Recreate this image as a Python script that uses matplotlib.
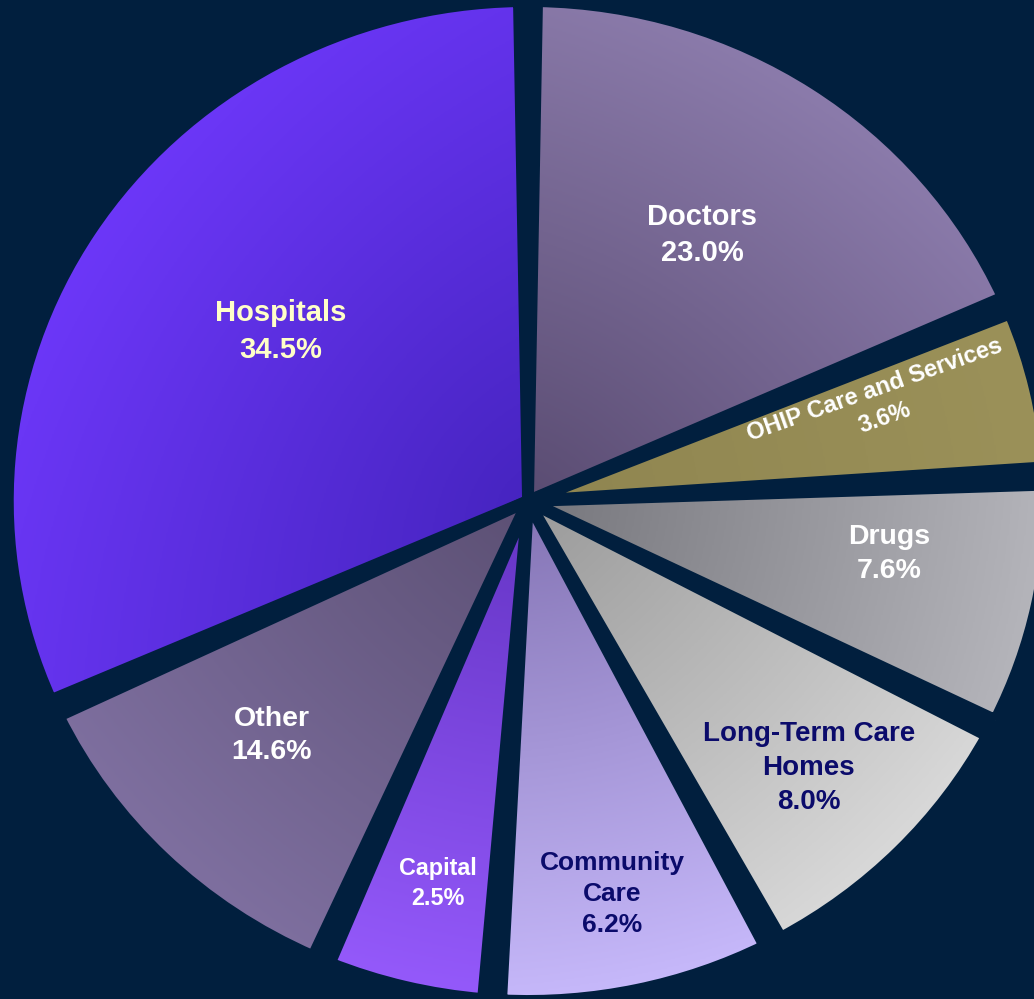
import numpy as np
import matplotlib.pyplot as plt
from matplotlib.colors import LinearSegmentedColormap
from matplotlib.patches import Wedge

# slices clockwise from 12 o'clock
categories = ["Doctors", "OHIP Care and Services", "Drugs", "Long-Term Care\nHomes",
              "Community\nCare", "Capital", "Other", "Hospitals"]
pct_labels = ["23.0%", "3.6%", "7.6%", "8.0%", "6.2%", "2.5%", "14.6%", "34.5%"]
# slice sizes as they are drawn in the picture (% of the circle)
slice_share = [18.6, 5.6, 8.3, 9.7, 8.9, 5.4, 11.7, 31.8]

inner_colors = ["#5a4c72", "#8f8550", "#76767c", "#9a9a9a", "#8474b4", "#6434c4", "#5c5074", "#4624c0"]
outer_colors = ["#8b7bab", "#9b9159", "#b4b4ba", "#d8d8d8", "#c6b8fa", "#9459fa", "#7e6f9f", "#6c37f8"]
text_colors = ["white", "white", "white", "#0b0b6b", "#0b0b6b", "white", "white", "#ffffc8"]
font_sizes = [21, 17, 20.5, 20, 19, 16.8, 20.5, 21]
label_r = [0.632, 0.711, 0.712, 0.772, 0.817, 0.798, 0.692, 0.588]
label_shift = [-1, -2.7, -3, 0.5, 0.5, -1, 1.7, 2.3]   # degrees, clockwise
label_rot = [0, 19.5, 0, 0, 0, 0, 0, 0]

bg = "#011f3e"
W, H = 1034, 999
cx, cy = 528, 501          # pie centre, pixels from top-left
rx, ry = 514, 494          # horizontal / vertical radius in pixels
gap_deg = 1.0              # angular trim on each side of a slice

fig = plt.figure(figsize=(W / 100, H / 100), dpi=100, facecolor=bg)
ax = fig.add_axes([0, 0, 1, 1])
ax.set_facecolor(bg)

wedges, _ = ax.pie(slice_share, startangle=90, counterclock=False, radius=1.012,
                   colors=outer_colors, wedgeprops=dict(linewidth=0, zorder=1))

xlim = (-cx / rx, (W - cx) / rx)
ylim = (-(H - cy) / ry, cy / ry)

xs = np.linspace(xlim[0], xlim[1], 700)
ys = np.linspace(ylim[0], ylim[1], 700)
X, Y = np.meshgrid(xs, ys)
R = np.hypot(X, Y)

for i, w in enumerate(wedges):
    w.set_theta1(w.theta1 + gap_deg)
    w.set_theta2(w.theta2 - gap_deg)
    mid = np.radians((w.theta1 + w.theta2) / 2)
    proj = X * np.cos(mid) + Y * np.sin(mid)
    t = np.clip(0.5 * R + 0.5 * proj, 0, 1)
    cm = LinearSegmentedColormap.from_list("g%d" % i, [inner_colors[i], outer_colors[i]])
    im = ax.imshow(t, cmap=cm, vmin=0, vmax=1, origin="lower", aspect="auto",
                   extent=(xlim[0], xlim[1], ylim[0], ylim[1]), zorder=2,
                   interpolation="bilinear")
    im.set_clip_path(w)
    # dark outline gives the separating gaps
    ax.add_patch(Wedge(w.center, w.r, w.theta1, w.theta2, facecolor="none",
                       edgecolor=bg, linewidth=8.5, joinstyle="round", zorder=3))

    ang = np.radians((w.theta1 + w.theta2) / 2 - label_shift[i])
    ax.text(label_r[i] * np.cos(ang), label_r[i] * np.sin(ang) + 0.005,
            categories[i] + "\n" + pct_labels[i], ha="center", va="center",
            rotation=label_rot[i], rotation_mode="anchor", color=text_colors[i],
            fontsize=font_sizes[i], fontweight="bold", family="Liberation Sans",
            linespacing=1.38, zorder=4)

ax.set_aspect("auto")
ax.set_xlim(*xlim)
ax.set_ylim(*ylim)
ax.axis("off")

fig.savefig("out.png", dpi=100, facecolor=bg)
